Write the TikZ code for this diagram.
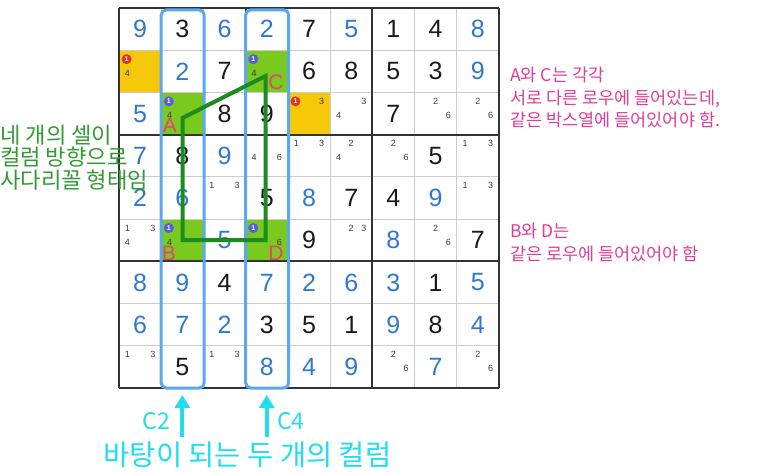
\documentclass[tikz,border=0pt]{standalone}
\usepackage{fontspec}
\setmainfont{Liberation Sans}
\newfontfamily\krfont{Noto Sans CJK KR}
\usetikzlibrary{arrows.meta}
\definecolor{givenblue}{HTML}{2F78CD}
\definecolor{solvedblack}{HTML}{1A1A1A}
\definecolor{thingray}{HTML}{CCCCCC}
\definecolor{thickgray}{HTML}{333333}
\definecolor{yellowcell}{HTML}{F5C90A}
\definecolor{greencell}{HTML}{7AC91E}
\definecolor{redcirc}{HTML}{E53228}
\definecolor{bluecirc}{HTML}{5B5BE0}
\definecolor{colblue}{HTML}{5AA8F2}
\definecolor{pathgreen}{HTML}{1C8C1C}
\definecolor{labelpink}{HTML}{E8436E}
\definecolor{notepink}{HTML}{E23C96}
\definecolor{notegreen}{HTML}{359A35}
\definecolor{cyanmark}{HTML}{22DDEE}
\def\S{42.222}
\def\GX{119}
\def\GY{8}
\begin{document}
\begin{tikzpicture}[x=1pt,y=-1pt,
  bigdigit/.style={font=\fontsize{25}{25}\selectfont, inner sep=0pt},
  given/.style={bigdigit, text=givenblue},
  solved/.style={bigdigit, text=solvedblack},
  cand/.style={font=\fontsize{9}{9}\selectfont, text=solvedblack!85, inner sep=0pt},
  badge/.style={circle, inner sep=0pt, minimum size=10pt, text=white, font=\fontsize{7}{7}\selectfont\bfseries},
  thinline/.style={thingray, line width=1pt},
  thickline/.style={thickgray, line width=1.8pt},
  colrect/.style={colblue, line width=3pt, rounded corners=5pt},
  wing/.style={pathgreen, line width=4pt, line join=miter},
  cornerlabel/.style={text=labelpink, font=\fontsize{21}{21}\selectfont, inner sep=0pt},
  leftnote/.style={text=notegreen, font=\krfont\fontsize{22.2}{22.7}\selectfont, align=left, inner sep=0pt, anchor=west},
  rightnote/.style={text=notepink, font=\krfont\fontsize{17.5}{22.5}\selectfont, align=left, inner sep=0pt, anchor=west},
  cyannote/.style={text=cyanmark, font=\krfont\fontsize{28.5}{28.5}\selectfont, inner sep=0pt},
  cyanarrow/.style={cyanmark, line width=4pt, -{Triangle[width=15pt,length=13pt]}}
]
\useasboundingbox (0,0) rectangle (773,473);
\fill[white] (0,0) rectangle (773,473);

% coloured cells
\foreach \r/\c in {2/1, 3/5}
  \fill[yellowcell] ({\GX+(\c-1)*\S},{\GY+(\r-1)*\S}) rectangle +(\S,\S);
\foreach \r/\c in {2/4, 3/2, 6/2, 6/4}
  \fill[greencell] ({\GX+(\c-1)*\S},{\GY+(\r-1)*\S}) rectangle +(\S,\S);

% grid
\foreach \i in {1,2,4,5,7,8} {
  \draw[thinline] ({\GX+\i*\S},\GY) -- ({\GX+\i*\S},{\GY+9*\S});
  \draw[thinline] (\GX,{\GY+\i*\S}) -- ({\GX+9*\S},{\GY+\i*\S});
}
\foreach \i in {0,3,6,9} {
  \draw[thickline] ({\GX+\i*\S},\GY) -- ({\GX+\i*\S},{\GY+9*\S});
  \draw[thickline] (\GX,{\GY+\i*\S}) -- ({\GX+9*\S},{\GY+\i*\S});
}

% big digits
\foreach \r/\c/\d/\k in {
  1/1/9/given, 1/2/3/solved, 1/3/6/given, 1/4/2/given, 1/5/7/solved, 1/6/5/given, 1/7/1/solved, 1/8/4/solved, 1/9/8/given,
  2/2/2/given, 2/3/7/solved, 2/5/6/solved, 2/6/8/solved, 2/7/5/solved, 2/8/3/solved, 2/9/9/given,
  3/1/5/given, 3/3/8/solved, 3/4/9/solved, 3/7/7/solved,
  4/1/7/given, 4/2/8/solved, 4/3/9/given, 4/8/5/solved,
  5/1/2/given, 5/2/6/given, 5/4/5/solved, 5/5/8/given, 5/6/7/solved, 5/7/4/solved, 5/8/9/given,
  6/3/5/given, 6/5/9/solved, 6/7/8/given, 6/9/7/solved,
  7/1/8/given, 7/2/9/given, 7/3/4/solved, 7/4/7/given, 7/5/2/given, 7/6/6/given, 7/7/3/given, 7/8/1/solved, 7/9/5/given,
  8/1/6/given, 8/2/7/given, 8/3/2/given, 8/4/3/solved, 8/5/5/solved, 8/6/1/solved, 8/7/9/given, 8/8/8/solved, 8/9/4/given,
  9/2/5/solved, 9/4/8/given, 9/5/4/given, 9/6/9/given, 9/8/7/given}
  \node[\k] (d-\r-\c) at ({\GX+(\c-0.5)*\S},{\GY+(\r-0.5)*\S}) {\d};

% candidates
\foreach \r/\c/\n in {
  2/1/4, 2/4/4, 3/2/4, 3/5/3, 3/6/3, 3/6/4, 3/8/2, 3/8/6, 3/9/2, 3/9/6,
  4/4/4, 4/4/6, 4/5/1, 4/5/3, 4/6/2, 4/6/4, 4/7/2, 4/7/6, 4/9/1, 4/9/3,
  5/3/1, 5/3/3, 5/9/1, 5/9/3,
  6/1/1, 6/1/3, 6/1/4, 6/2/4, 6/4/6, 6/6/2, 6/6/3, 6/8/2, 6/8/6,
  9/1/1, 9/1/3, 9/3/1, 9/3/3, 9/7/2, 9/7/6, 9/9/2, 9/9/6} {
  \pgfmathsetmacro\cx{\GX+(\c-1)*\S+\S*(0.2+0.3*mod(\n-1,3))}
  \pgfmathsetmacro\cy{\GY+(\r-1)*\S+\S*(0.21+0.33*floor((\n-1)/3))}
  \node[cand] (k-\r-\c-\n) at (\cx,\cy) {\n};
}

% badges
\foreach \r/\c/\col in {2/1/redcirc, 3/5/redcirc, 2/4/bluecirc, 3/2/bluecirc, 6/2/bluecirc, 6/4/bluecirc}
  \node[badge, fill=\col] (b-\r-\c) at ({\GX+(\c-1)*\S+7.6},{\GY+(\r-1)*\S+8.9}) {1};

% column highlights
\draw[colrect] ({\GX+\S},{\GY+2}) rectangle ({\GX+2*\S+0.8},{\GY+9*\S});
\draw[colrect] ({\GX+3*\S},{\GY+2}) rectangle ({\GX+4*\S+0.8},{\GY+9*\S});

% trapezoid
\coordinate (pA) at (182.5,118);
\coordinate (pC) at (265.5,76);
\coordinate (pD) at (265.5,240);
\coordinate (pB) at (182.5,240);
\draw[wing] (pA) -- (pC) -- (pD) -- (pB) -- cycle;

% corner labels
\node[cornerlabel] (lA) at (170,125) {A};
\node[cornerlabel] (lC) at (276,82) {C};
\node[cornerlabel] (lB) at (169,253) {B};
\node[cornerlabel] (lD) at (276,253) {D};

% notes
\node[leftnote] (noteL) at (0,157.5) {네 개의 셀이\\컬럼 방향으로\\사다리꼴 형태임};
\node[rightnote] (noteAC) at (510,97.5) {A와 C는 각각\\서로 다른 로우에 들어있는데,\\같은 박스열에 들어있어야 함.};
\node[rightnote] (noteBD) at (510,242.5) {B와 D는\\같은 로우에 들어있어야 함};

% bottom arrows
\coordinate (t2) at ({\GX+1.5*\S},437);
\coordinate (h2) at ({\GX+1.5*\S},395);
\coordinate (t4) at ({\GX+3.5*\S},437);
\coordinate (h4) at ({\GX+3.5*\S},395);
\draw[cyanarrow] (t2) -- (h2);
\draw[cyanarrow] (t4) -- (h4);
\node[cyannote, font=\krfont\fontsize{23}{23}\selectfont] (c2) at (156.5,421) {C2};
\node[cyannote, font=\krfont\fontsize{23}{23}\selectfont] (c4) at (291,421) {C4};
\node[cyannote] (basecols) at (247.5,455) {바탕이 되는 두 개의 컬럼};
\end{tikzpicture}
\end{document}
